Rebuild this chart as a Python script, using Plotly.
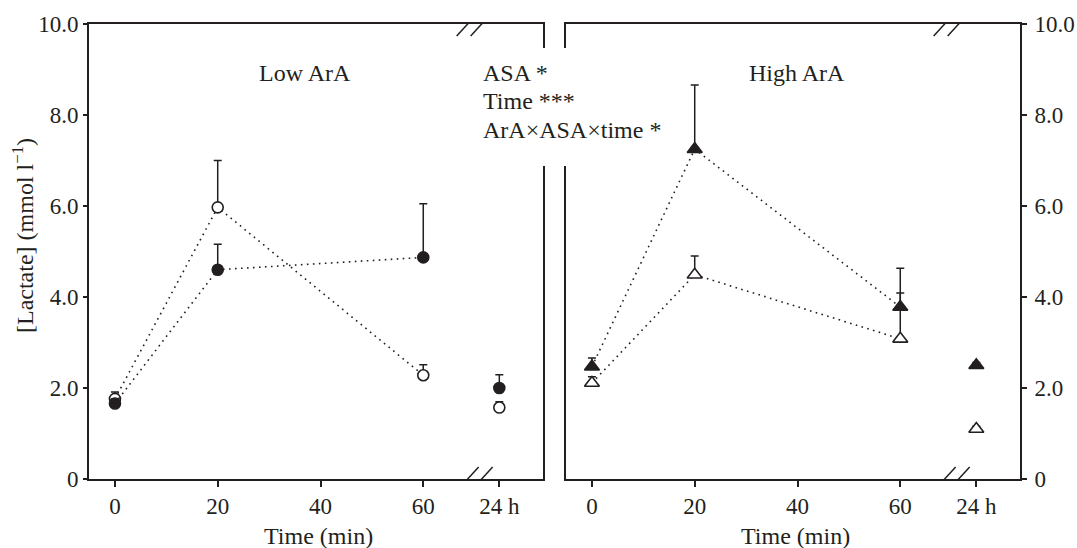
import plotly.graph_objects as go

# ---- data ----
time_ticks = [0, 20, 40, 60, 74.8]
time_labels = ["0", "20", "40", "60", "24 h"]
t_line = [0, 20, 60]
t_all = [0, 20, 60, 74.8]

low_open = [1.76, 5.97, 2.28, 1.57]
low_open_err = [0.15, 1.03, 0.23, 0.13]
low_filled = [1.66, 4.60, 4.87, 2.00]
low_filled_err = [0.10, 0.56, 1.18, 0.29]

high_open = [2.11, 4.49, 3.08, 1.10]
high_open_err = [0.14, 0.41, 1.01, 0.06]
high_filled = [2.47, 7.25, 3.78, 2.50]
high_filled_err = [0.19, 1.41, 0.85, 0.06]

y_ticks = [0, 2, 4, 6, 8, 10]
y_labels = ["0", "2.0", "4.0", "6.0", "8.0", "10.0"]

stats_lines = ["ASA *", "Time ***", "ArA×ASA×time *"]

INK = "#231f20"
FONT = "Liberation Serif"

fig = go.Figure()

def add_series(y, err, symbol, size, fill, xa, ya):
    fig.add_trace(go.Scatter(
        x=t_line, y=y[:3], mode="lines", xaxis=xa, yaxis=ya,
        line=dict(color=INK, width=1.6, dash="1.6px,4.4px"),
        hoverinfo="skip", showlegend=False))
    fig.add_trace(go.Scatter(
        x=t_all, y=y, mode="markers", xaxis=xa, yaxis=ya,
        marker=dict(symbol=symbol, size=size, color=fill,
                    line=dict(color=INK, width=1.6)),
        error_y=dict(type="data", array=err, arrayminus=[0] * len(err),
                     symmetric=False, color=INK, thickness=1.5, width=4),
        showlegend=False))

add_series(low_open, low_open_err, "circle", 11, "white", "x", "y")
add_series(low_filled, low_filled_err, "circle", 11, INK, "x", "y")
add_series(high_open, high_open_err, "triangle-up", 13, "white", "x2", "y2")
add_series(high_filled, high_filled_err, "triangle-up", 13, INK, "x2", "y2")

L, R, T, B = 89, 57, 24, 69
W, H = 1077, 548
pw = W - L - R
ph = H - T - B
d1 = (543 - L) / pw
d2 = (566 - L) / pw

axis_common = dict(showline=True, linecolor=INK, linewidth=1.6, mirror=True,
                   showgrid=False, zeroline=False, ticks="outside",
                   tickcolor=INK, tickwidth=1.5, automargin=False,
                   tickfont=dict(family=FONT, size=23, color=INK))
title_font = dict(family=FONT, size=24, color=INK)
xr = [-5.05, 83.3]
fig.update_layout(
    width=W, height=H, margin=dict(l=L, r=R, t=T, b=B, autoexpand=False),
    paper_bgcolor="white", plot_bgcolor="white",
    font=dict(family=FONT, color=INK),
    xaxis=dict(domain=[0, d1], range=xr, tickvals=time_ticks, ticktext=time_labels,
               ticklen=6, **axis_common),
    xaxis2=dict(domain=[d2, 1], range=xr, tickvals=time_ticks, ticktext=time_labels,
                ticklen=6, anchor="y2", **axis_common),
    yaxis=dict(range=[0, 10], tickvals=y_ticks, ticktext=y_labels, ticklen=4,
               **axis_common),
    yaxis2=dict(range=[0, 10], tickvals=y_ticks, ticktext=y_labels, ticklen=5,
                anchor="x2", side="right", ticklabelstandoff=3, **axis_common),
)

def px_x(p):
    return (p - L) / pw

def px_y(p):
    return (H - B - p) / ph

# axis break marks
shapes = []
for xa, ya in (("x", "y"), ("x2", "y2")):
    for yv in (0, 10):
        for off in (-7, 7):
            shapes.append(dict(type="line", xref=xa, yref=ya,
                               xsizemode="pixel", ysizemode="pixel",
                               xanchor=70, yanchor=yv,
                               x0=off - 11, x1=off + 11, y0=-12, y1=12,
                               line=dict(color=INK, width=1.5)))
# white box that interrupts the inner frame lines behind the statistics text
shapes.append(dict(type="rect", xref="paper", yref="paper", layer="above",
                   x0=px_x(470), x1=px_x(662), y0=px_y(166), y1=px_y(48),
                   fillcolor="white", line=dict(width=0)))
fig.update_layout(shapes=shapes)

for i, s in enumerate(stats_lines):
    fig.add_annotation(text=s, xref="paper", yref="paper",
                       x=px_x(481), y=px_y(73 + 28.5 * i),
                       xanchor="left", yanchor="middle", align="left",
                       showarrow=False, font=dict(family=FONT, size=24, color=INK))

fig.add_annotation(text="Low ArA", xref="paper", yref="paper",
                   x=px_x(305), y=px_y(73), xanchor="center", yanchor="middle",
                   showarrow=False, font=dict(family=FONT, size=24, color=INK))
fig.add_annotation(text="High ArA", xref="paper", yref="paper",
                   x=px_x(797), y=px_y(73), xanchor="center", yanchor="middle",
                   showarrow=False, font=dict(family=FONT, size=24, color=INK))
fig.add_annotation(text="Time (min)", xref="paper", yref="paper",
                   x=px_x(318), y=px_y(536), xanchor="center", yanchor="middle",
                   showarrow=False, font=title_font)
fig.add_annotation(text="Time (min)", xref="paper", yref="paper",
                   x=px_x(795), y=px_y(536), xanchor="center", yanchor="middle",
                   showarrow=False, font=title_font)
fig.add_annotation(text="[Lactate] (mmol l<sup>−1</sup>)", xref="paper", yref="paper",
                   x=px_x(23), y=px_y(236), xanchor="center", yanchor="middle",
                   textangle=-90, showarrow=False,
                   font=dict(family=FONT, size=24, color=INK))

fig.write_html("out.html")
